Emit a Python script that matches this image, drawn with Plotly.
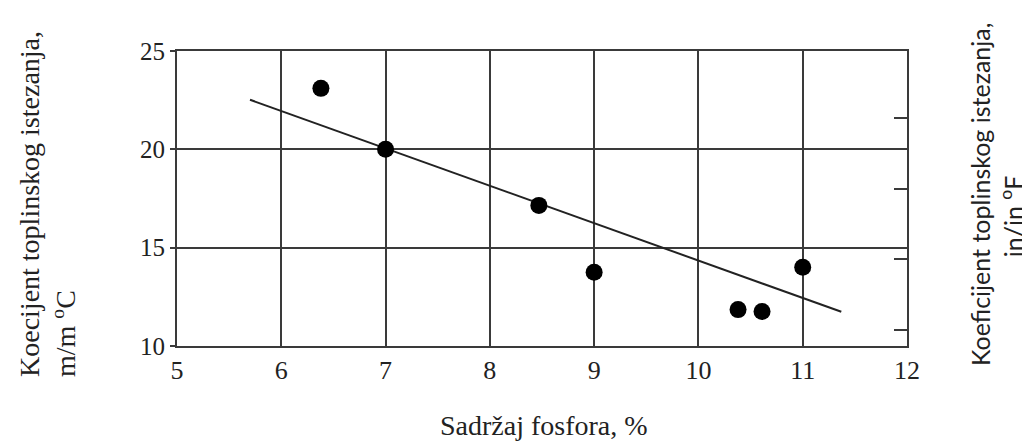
import plotly.graph_objects as go

# Data
phosphorus = [6.38, 7.0, 8.47, 9.0, 10.38, 10.61, 11.0]
coef = [23.1, 20.0, 17.15, 13.75, 11.85, 11.75, 14.0]

trend_x = [5.7, 11.37]
trend_y = [22.52, 11.74]

x_ticks = [5, 6, 7, 8, 9, 10, 11, 12]
y_ticks = [10, 15, 20, 25]
y2_ticks = [6, 8, 10, 12]   # in/in °F scale
C_TO_F = 1.8

serif = "Liberation Serif, Times New Roman, serif"
sans = "Lato, Open Sans, sans-serif"
ink = "#222222"

# plot area in window pixels (page has an 8px body margin)
L, R, T, B = 177, 907, 51, 346
PW, PH = R - L, B - T

fig = go.Figure()
fig.add_trace(go.Scatter(x=trend_x, y=trend_y, mode="lines",
                         line=dict(color=ink, width=2), showlegend=False,
                         hoverinfo="skip"))
fig.add_trace(go.Scatter(x=phosphorus, y=coef, mode="markers",
                         marker=dict(color="black", size=17), showlegend=False))
fig.add_trace(go.Scatter(x=[], y=[], yaxis="y2", showlegend=False))

fig.update_layout(
    width=1030, height=441,
    margin=dict(l=L - 8, r=1030 - R + 8, t=T - 8, b=441 - B + 8),
    paper_bgcolor="white", plot_bgcolor="white",
    font=dict(family=serif, color=ink, size=22),
    xaxis=dict(range=[5, 12], tickvals=x_ticks, ticks="", showgrid=True,
               gridcolor="#3a3a3a", gridwidth=2, showline=True, linecolor="#3a3a3a",
               linewidth=2, mirror=True, zeroline=False,
               tickfont=dict(family=serif, size=26, color=ink)),
    yaxis=dict(range=[10, 25], tickvals=y_ticks, ticks="outside", ticklen=5,
               tickwidth=2, tickcolor="#3a3a3a", showgrid=True,
               gridcolor="#3a3a3a", gridwidth=2, showline=True, linecolor="#3a3a3a",
               linewidth=2, mirror=True, zeroline=False,
               tickfont=dict(family=serif, size=25, color=ink)),
    yaxis2=dict(overlaying="y", side="right", anchor="x",
                range=[10 / C_TO_F, 25 / C_TO_F], tickvals=y2_ticks,
                ticks="inside", ticklen=13, tickwidth=2, tickcolor="#3a3a3a",
                showticklabels=False, showgrid=False, zeroline=False, showline=False),
)

fig.add_annotation(text="Sadržaj fosfora, %",
                   xref="paper", yref="paper", x=(544 - L) / PW, y=(B - 425) / PH,
                   xanchor="center", yanchor="middle", showarrow=False,
                   font=dict(family=serif, size=28, color=ink))
fig.add_annotation(text="Koecijent toplinskog istezanja,<br>m/m <sup>o</sup>C",
                   xref="paper", yref="paper", x=(47 - L) / PW, y=(B - 379) / PH,
                   xanchor="center", yanchor="bottom", textangle=-90, align="left",
                   showarrow=False, font=dict(family=serif, size=28, color=ink))
fig.add_annotation(text="Koeficijent toplinskog istezanja,<br>in/in <sup>o</sup>F" + "&nbsp;" * 7,
                   xref="paper", yref="paper", x=(996 - L) / PW, y=(B - 195) / PH,
                   xanchor="center", yanchor="middle", textangle=-90, align="center",
                   showarrow=False, font=dict(family=sans, size=25, color=ink))

fig.write_html("out.html")
